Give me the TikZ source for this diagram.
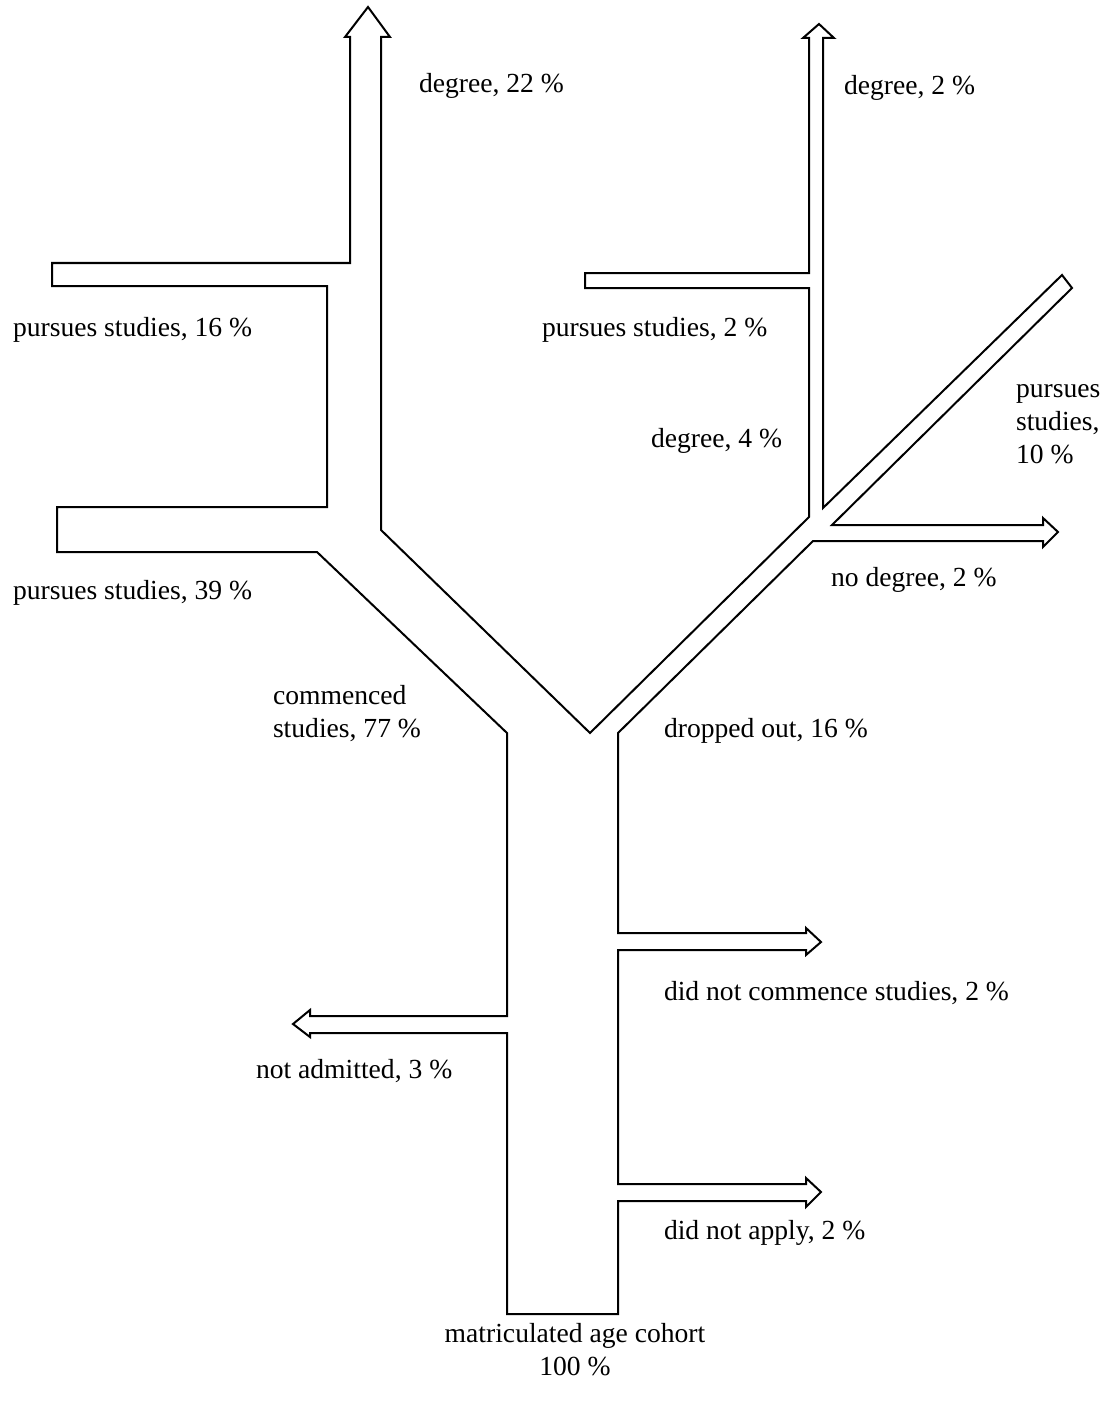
\documentclass[tikz,border=0pt]{standalone}
\usepackage{fontspec}
\setmainfont{Liberation Serif}
\tikzset{lbl/.style={anchor=west, inner sep=0pt, align=left, font=\fontsize{13.8}{16.5}\selectfont}}

\begin{document}
\begin{tikzpicture}[x=0.5pt,y=-0.5pt,line width=1pt,line join=miter]
        \useasboundingbox (0,0) rectangle (1104,1407);

        % Flow outline
        \draw (507,1314) -- (507,1033) -- (310,1033) -- (310,1037) -- (293,1024) -- (310,1010) -- (310,1016) -- (507,1016) -- (507,733)
            -- (317,552) -- (57,552) -- (57,507) -- (327,507) -- (327,286) -- (52,286) -- (52,263) -- (350,263)
            -- (350,37) -- (345,37) -- (368,7) -- (390,37) -- (381,37) -- (381,530)
            -- (590,733) -- (809,517) -- (809,288) -- (585,288) -- (585,273) -- (809,273)
            -- (809,38) -- (803,38) -- (819,24) -- (834,38) -- (823,38) -- (823,508)
            -- (1062,275) -- (1072,288) -- (832,525) -- (1043,525) -- (1043,518) -- (1058,532) -- (1043,547) -- (1043,541) -- (813,541)
            -- (618,733) -- (618,933) -- (806,933) -- (806,928) -- (821,942) -- (806,955) -- (806,950) -- (618,950)
            -- (618,1184) -- (806,1184) -- (806,1178) -- (821,1192) -- (806,1207) -- (806,1201) -- (618,1201) -- (618,1314) -- cycle;

        % Left branch
        \node[lbl] (deg22) at (418,86) {degree, 22 \%};
        \node[lbl] (pur16) at (12,330) {pursues studies, 16 \%};
        \node[lbl] (pur39) at (12,593) {pursues studies, 39 \%};
        \node[lbl] (comm) at (272,714) {commenced\\studies, 77 \%};

        % Right branch
        \node[lbl] (deg2) at (843,88) {degree, 2 \%};
        \node[lbl] (pur2) at (541,330) {pursues studies, 2 \%};
        \node[lbl] (deg4) at (650,441) {degree, 4 \%};
        \node[lbl] (pur10) at (1015,424) {pursues\\studies,\\10 \%};
        \node[lbl] (nodeg) at (830,580) {no degree, 2 \%};
        \node[lbl] (drop) at (663,731) {dropped out, 16 \%};

        % Trunk
        \node[lbl] (nocomm) at (663,993) {did not commence studies, 2 \%};
        \node[lbl] (noadm) at (255,1071) {not admitted, 3 \%};
        \node[lbl] (noapply) at (663,1233) {did not apply, 2 \%};
        \node[lbl, anchor=center, align=center] (cohort) at (575,1350) {matriculated age cohort\\100 \%};
    \end{tikzpicture}
\end{document}
